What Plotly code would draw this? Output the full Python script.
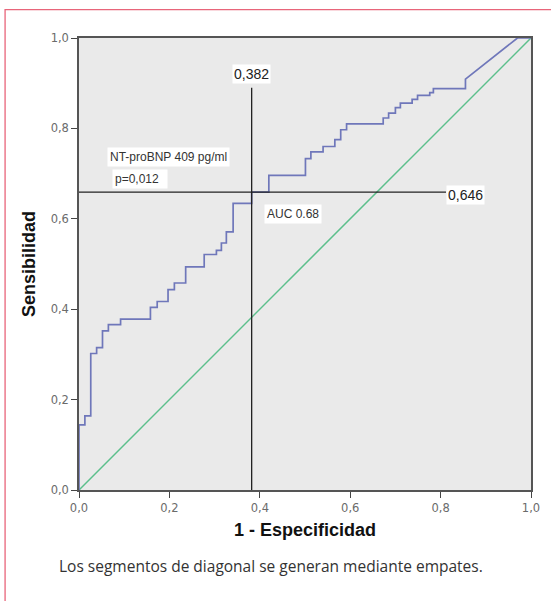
import plotly.graph_objects as go

# ROC step points: (x where the rise happens, y after the rise)
step_x = [0.0, 0.0, 0.013, 0.026, 0.039, 0.052, 0.065, 0.092, 0.158, 0.173, 0.197, 0.211,
          0.236, 0.277, 0.304, 0.315, 0.326, 0.341, 0.382, 0.420, 0.501, 0.513, 0.540,
          0.566, 0.579, 0.592, 0.673, 0.685, 0.700, 0.711, 0.737, 0.749, 0.776, 0.784, 0.855]
step_y = [0.0, 0.144, 0.164, 0.302, 0.315, 0.352, 0.366, 0.378, 0.404, 0.417, 0.4435, 0.458,
          0.4935, 0.521, 0.530, 0.5465, 0.571, 0.634, 0.659, 0.696, 0.733, 0.748, 0.760,
          0.775, 0.797, 0.810, 0.823, 0.834, 0.846, 0.856, 0.864, 0.873, 0.879, 0.888, 0.909]
# final tied segment (diagonal) and end
tail_x = [0.97, 1.0]
tail_y = [1.0, 1.0]

ref_x = [0.0, 1.0]
ref_y = [0.0, 1.0]

cut_x = 0.382
cut_y = 0.659
cut_x_label = "0,382"
cut_y_label = "0,646"
marker_label = "NT-proBNP 409 pg/ml"
p_label = "p=0,012"
auc_label = "AUC 0.68"

tick_vals = [0.0, 0.2, 0.4, 0.6, 0.8, 1.0]
tick_text = ["0,0", "0,2", "0,4", "0,6", "0,8", "1,0"]

# build step vertices
roc_x, roc_y = [step_x[0]], [step_y[0]]
for i in range(1, len(step_x)):
    roc_x += [step_x[i], step_x[i]]
    roc_y += [step_y[i - 1], step_y[i]]
roc_x += tail_x
roc_y += tail_y

fig = go.Figure()
fig.add_trace(go.Scatter(x=ref_x, y=ref_y, mode="lines",
                         line=dict(color="#5cbf8c", width=1.5), hoverinfo="skip"))
fig.add_trace(go.Scatter(x=roc_x, y=roc_y, mode="lines",
                         line=dict(color="#6f77ba", width=1.7), hoverinfo="skip"))
# cutoff lines
fig.add_trace(go.Scatter(x=[cut_x, cut_x], y=[0, 0.89], mode="lines",
                         line=dict(color="#222222", width=1.3), hoverinfo="skip"))
fig.add_trace(go.Scatter(x=[0, 0.812], y=[cut_y, cut_y], mode="lines",
                         line=dict(color="#222222", width=1.3), hoverinfo="skip"))

ann_font = dict(family="Liberation Sans, Arial, sans-serif", size=12, color="#333333")
num_font = dict(family="Liberation Sans, Arial, sans-serif", size=14, color="#222222")
annotations = [
    dict(x=cut_x, y=0.921, text=cut_x_label, showarrow=False, xanchor="center", yanchor="middle",
         bgcolor="white", font=num_font, borderpad=1),
    dict(x=0.813, y=0.652, text=cut_y_label, showarrow=False, xanchor="left", yanchor="middle",
         bgcolor="white", font=num_font, borderpad=1),
    dict(x=0.062, y=0.737, text=marker_label, showarrow=False, xanchor="left", yanchor="middle",
         bgcolor="white", font=ann_font, borderpad=2),
    dict(x=0.072, y=0.689, text=p_label + "&nbsp;&nbsp;", showarrow=False, xanchor="left", yanchor="middle",
         bgcolor="white", font=ann_font, borderpad=2),
    dict(x=0.410, y=0.610, text=auc_label, showarrow=False, xanchor="left", yanchor="middle",
         bgcolor="white", font=ann_font, borderpad=2),
    dict(x=(271 - 79) / 452.5, y=(490 - 566) / 452.5,
         text="Los segmentos de diagonal se generan mediante empates.",
         xref="paper", yref="paper", showarrow=False, xanchor="center", yanchor="middle",
         font=dict(family="Open Sans, sans-serif", size=15.5, color="#333333")),
]

axis_common = dict(range=[0, 1], tickvals=tick_vals, ticktext=tick_text, ticks="outside",
                   ticklen=6, tickwidth=1.3, tickcolor="#444444", showgrid=False, zeroline=False,
                   showline=True, linecolor="#555555", linewidth=1.5, mirror=True,
                   tickfont=dict(family="DejaVu Sans, sans-serif", size=11.5, color="#6b6b6b"))

fig.update_layout(
    width=551, height=601,
    margin=dict(l=79, r=19.5, t=37.5, b=111),
    paper_bgcolor="white", plot_bgcolor="#eaeaea",
    showlegend=False,
    xaxis=dict(**axis_common,
               title=dict(text="<b>1 - Especificidad</b>", standoff=10,
                          font=dict(family="Liberation Sans, Arial", size=18, color="#111111"))),
    yaxis=dict(**axis_common,
               title=dict(text="<b>Sensibilidad</b>", standoff=10,
                          font=dict(family="Liberation Sans, Arial", size=18, color="#111111"))),
    annotations=annotations,
    shapes=[dict(type="rect", xref="paper", yref="paper",
                 x0=(5 - 79) / 452.5, x1=(570 - 79) / 452.5,
                 y0=(490 - 620) / 452.5, y1=(490 - 9) / 452.5,
                 line=dict(color="#e8657a", width=1.3), fillcolor="rgba(0,0,0,0)", layer="below")],
)

fig.write_html("out.html", config={"displayModeBar": False},
               post_script="document.body.style.margin='0';document.body.style.overflow='hidden';")
